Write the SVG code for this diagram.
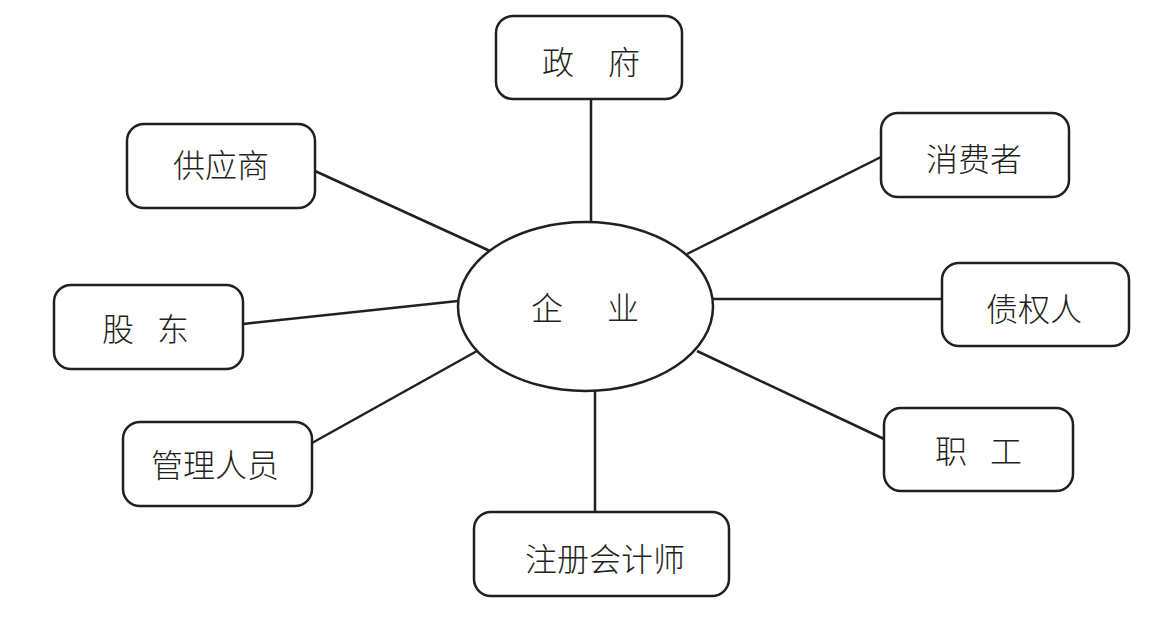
<svg xmlns="http://www.w3.org/2000/svg" width="1176" height="622" viewBox="0 0 1176 622">
<style>
.box{fill:#fff;stroke:#231f20;stroke-width:2.5}
.ell{fill:#fff;stroke:#231f20;stroke-width:2.5}
.conn line{stroke:#231f20;stroke-width:2.5}
.lbl{font-family:"Noto Sans CJK SC","Noto Sans CJK JP",sans-serif;font-size:32px;font-weight:300;fill:#231f20;text-anchor:middle;dominant-baseline:central}
</style>
<rect width="1176" height="622" fill="#fff"/>
<g id="connectors" class="conn">
<line x1="591" y1="99" x2="591" y2="222"/>
<line x1="315" y1="171" x2="490" y2="251"/>
<line x1="881" y1="157" x2="687" y2="254"/>
<line x1="243" y1="324" x2="458" y2="301"/>
<line x1="713" y1="299" x2="942" y2="299"/>
<line x1="312" y1="443" x2="477" y2="351"/>
<line x1="884" y1="439" x2="697" y2="351"/>
<line x1="595" y1="391" x2="595" y2="512"/>
</g>
<g id="enterprise">
<ellipse class="ell" cx="585.5" cy="306.5" rx="127.5" ry="84.5"/>
<text class="lbl" y="306"><tspan x="547">企</tspan><tspan x="623">业</tspan></text>
</g>
<g id="government">
<rect class="box" x="496" y="16" width="186" height="83" rx="17"/>
<text class="lbl" y="60"><tspan x="558">政</tspan><tspan x="624">府</tspan></text>
</g>
<g id="supplier">
<rect class="box" x="127" y="124" width="188" height="84" rx="17"/>
<text class="lbl" x="221" y="163">供应商</text>
</g>
<g id="consumer">
<rect class="box" x="881" y="113" width="188" height="84" rx="17"/>
<text class="lbl" x="974" y="157">消费者</text>
</g>
<g id="shareholder">
<rect class="box" x="54" y="285" width="189" height="84" rx="17"/>
<text class="lbl" y="327"><tspan x="118">股</tspan><tspan x="173">东</tspan></text>
</g>
<g id="creditor">
<rect class="box" x="942" y="263" width="187" height="83" rx="17"/>
<text class="lbl" x="1034" y="307">债权人</text>
</g>
<g id="managers">
<rect class="box" x="123" y="422" width="189" height="84" rx="17"/>
<text class="lbl" x="215" y="463">管理人员</text>
</g>
<g id="employees">
<rect class="box" x="884" y="408" width="189" height="83" rx="17"/>
<text class="lbl" y="449"><tspan x="951">职</tspan><tspan x="1006">工</tspan></text>
</g>
<g id="cpa">
<rect class="box" x="474" y="512" width="255" height="84" rx="17"/>
<text class="lbl" x="605" y="557">注册会计师</text>
</g>
</svg>
